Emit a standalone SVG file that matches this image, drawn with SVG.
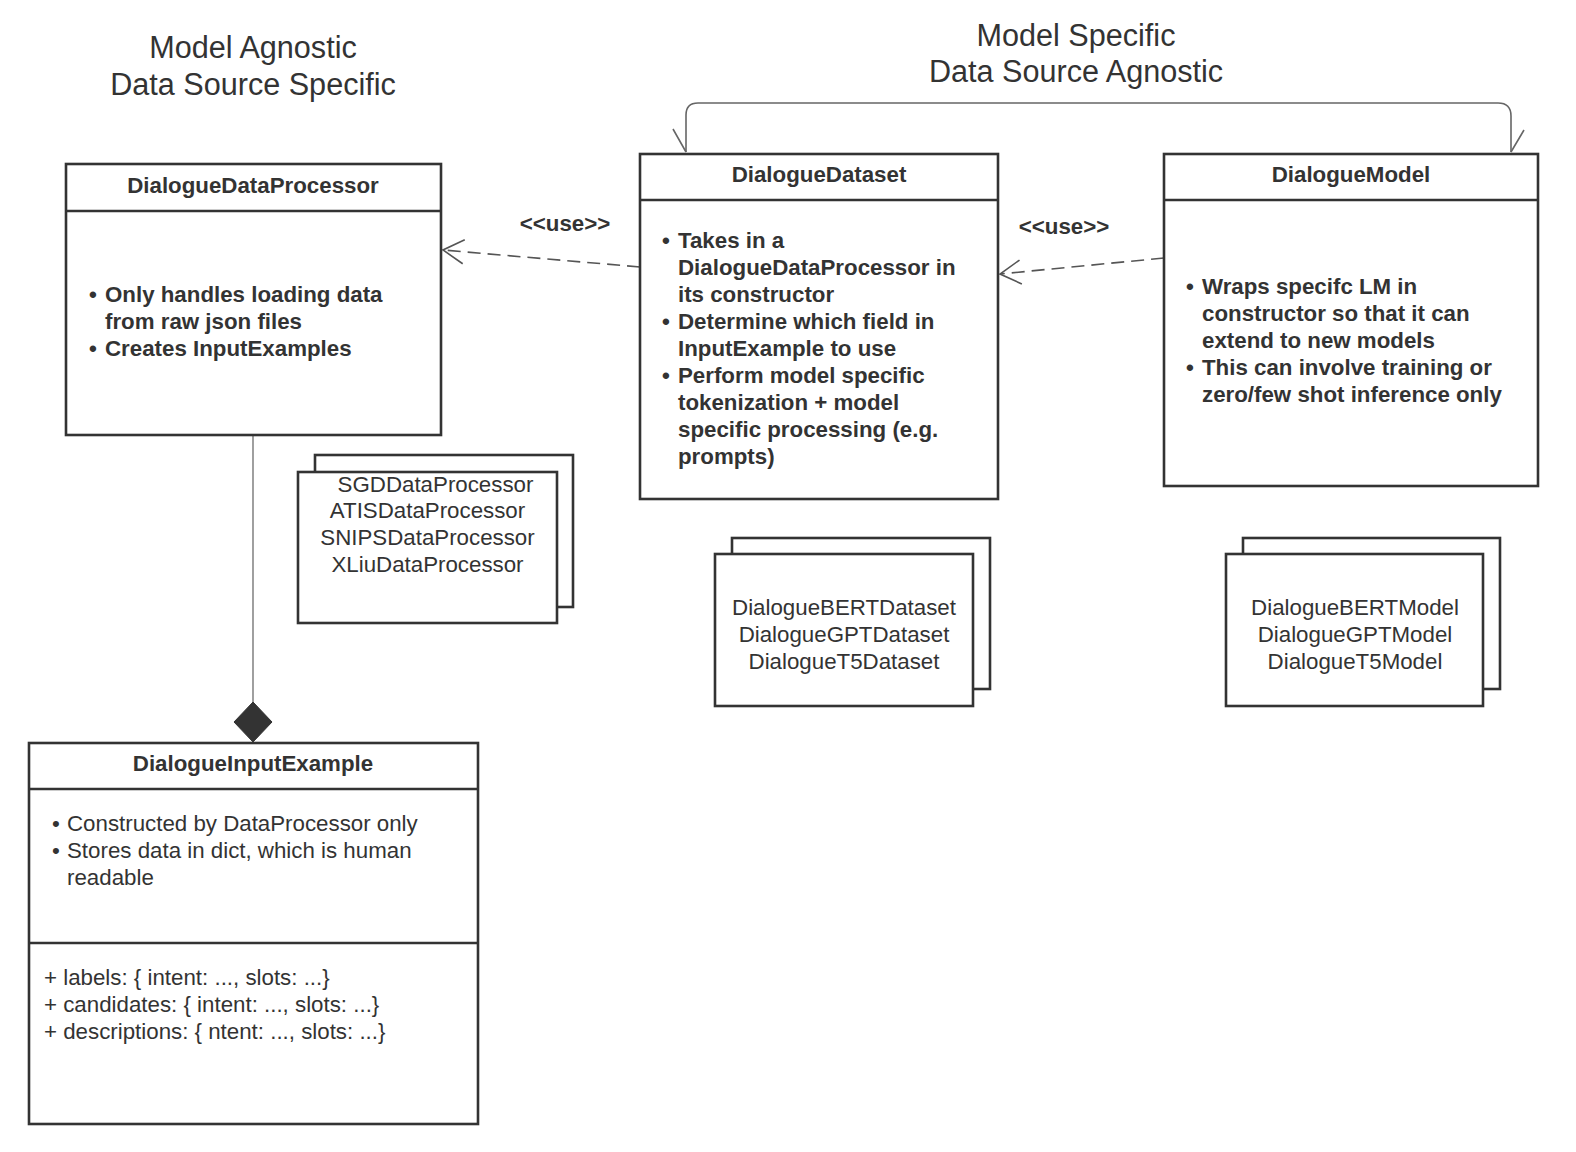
<svg xmlns="http://www.w3.org/2000/svg" width="1576" height="1152" viewBox="0 0 1576 1152">
<style>
text{font-family:"Liberation Sans",Arial,sans-serif;fill:#333;}
.h{font-size:30.6px;text-anchor:middle;}
.t{font-size:22.3px;font-weight:bold;text-anchor:middle;}
.b{font-size:22.3px;font-weight:bold;}
.r{font-size:22.3px;}
.c{font-size:22.3px;text-anchor:middle;}
.box{fill:#fff;stroke:#333;stroke-width:2.6;}
.div{stroke:#333;stroke-width:2.6;fill:none;}
.dash{stroke:#555;stroke-width:1.6;fill:none;stroke-dasharray:13 7;}
.solid{stroke:#666;stroke-width:1.6;fill:none;}
</style>
<defs>
<marker id="open" markerUnits="userSpaceOnUse" viewBox="-26 -16 30 32" refX="0" refY="0" markerWidth="30" markerHeight="32" orient="auto" overflow="visible">
<path d="M-20.8,-12 L0,0 L-20.8,12" fill="none" stroke="#555" stroke-width="1.6"/>
</marker>
</defs>
<rect width="1576" height="1152" fill="#fff"/>

<g id="label-left">
<text class="h" x="253" y="58">Model Agnostic</text>
<text class="h" x="253" y="95">Data Source Specific</text>
</g>
<g id="label-right">
<text class="h" x="1076" y="46">Model Specific</text>
<text class="h" x="1076" y="82">Data Source Agnostic</text>
</g>

<g id="connectors">
<path class="dash" d="M640,267 L443,250" marker-end="url(#open)"/>
<text class="t" x="565" y="231">&lt;&lt;use&gt;&gt;</text>
<path class="dash" d="M1164,258 L1000,274" marker-end="url(#open)"/>
<text class="t" x="1064" y="234">&lt;&lt;use&gt;&gt;</text>
<path class="solid" d="M686,152 L686,115 Q686,103 698,103 L1498,103 Q1511,103 1511,116 L1511,152"/>
<path class="solid" d="M673,129 L686,152 M1524,130 L1511,152"/>
<path stroke="#888" stroke-width="1.6" fill="none" d="M253,435 L253,702"/>
<path fill="#333" stroke="#333" stroke-width="1" d="M253,702 L272,722 L253,742 L234,722 Z"/>
</g>

<g id="DialogueDataProcessor">
<rect class="box" x="66" y="164" width="375" height="271"/>
<path class="div" d="M66,211 H441"/>
<text class="t" x="253" y="193">DialogueDataProcessor</text>
<text class="b" x="89" y="302">•</text><text class="b" x="105" y="302">Only handles loading data</text>
<text class="b" x="105" y="329">from raw json files</text>
<text class="b" x="89" y="356">•</text><text class="b" x="105" y="356">Creates InputExamples</text>
</g>

<g id="DataProcessors">
<rect class="box" x="315" y="455" width="258" height="152"/>
<rect class="box" x="298" y="472" width="259" height="151"/>
<text class="c" x="435.5" y="492">SGDDataProcessor</text>
<text class="c" x="427.5" y="518">ATISDataProcessor</text>
<text class="c" x="427.5" y="545">SNIPSDataProcessor</text>
<text class="c" x="427.5" y="572">XLiuDataProcessor</text>
</g>

<g id="DialogueDataset">
<rect class="box" x="640" y="154" width="358" height="345"/>
<path class="div" d="M640,200 H998"/>
<text class="t" x="819" y="182">DialogueDataset</text>
<text class="b" x="662" y="248">•</text><text class="b" x="678" y="248">Takes in a</text>
<text class="b" x="678" y="275">DialogueDataProcessor in</text>
<text class="b" x="678" y="302">its constructor</text>
<text class="b" x="662" y="329">•</text><text class="b" x="678" y="329">Determine which field in</text>
<text class="b" x="678" y="356">InputExample to use</text>
<text class="b" x="662" y="383">•</text><text class="b" x="678" y="383">Perform model specific</text>
<text class="b" x="678" y="410">tokenization + model</text>
<text class="b" x="678" y="437">specific processing (e.g.</text>
<text class="b" x="678" y="464">prompts)</text>
</g>

<g id="Datasets">
<rect class="box" x="732" y="538" width="258" height="151"/>
<rect class="box" x="715" y="554" width="258" height="152"/>
<text class="c" x="844" y="615">DialogueBERTDataset</text>
<text class="c" x="844" y="642">DialogueGPTDataset</text>
<text class="c" x="844" y="669">DialogueT5Dataset</text>
</g>

<g id="DialogueModel">
<rect class="box" x="1164" y="154" width="374" height="332"/>
<path class="div" d="M1164,200 H1538"/>
<text class="t" x="1351" y="182">DialogueModel</text>
<text class="b" x="1186" y="294">•</text><text class="b" x="1202" y="294">Wraps specifc LM in</text>
<text class="b" x="1202" y="321">constructor so that it can</text>
<text class="b" x="1202" y="348">extend to new models</text>
<text class="b" x="1186" y="375">•</text><text class="b" x="1202" y="375">This can involve training or</text>
<text class="b" x="1202" y="402">zero/few shot inference only</text>
</g>

<g id="Models">
<rect class="box" x="1243" y="538" width="257" height="151"/>
<rect class="box" x="1226" y="554" width="257" height="152"/>
<text class="c" x="1355" y="615">DialogueBERTModel</text>
<text class="c" x="1355" y="642">DialogueGPTModel</text>
<text class="c" x="1355" y="669">DialogueT5Model</text>
</g>

<g id="DialogueInputExample">
<rect class="box" x="29" y="743" width="449" height="381"/>
<path class="div" d="M29,789 H478 M29,943 H478"/>
<text class="t" x="253" y="771">DialogueInputExample</text>
<text class="r" x="52" y="831">•</text><text class="r" x="67" y="831">Constructed by DataProcessor only</text>
<text class="r" x="52" y="858">•</text><text class="r" x="67" y="858">Stores data in dict, which is human</text>
<text class="r" x="67" y="885">readable</text>
<text class="r" x="44" y="985">+ labels: { intent: ..., slots: ...}</text>
<text class="r" x="44" y="1012">+ candidates: { intent: ..., slots: ...}</text>
<text class="r" x="44" y="1039">+ descriptions: { ntent: ..., slots: ...}</text>
</g>
</svg>
